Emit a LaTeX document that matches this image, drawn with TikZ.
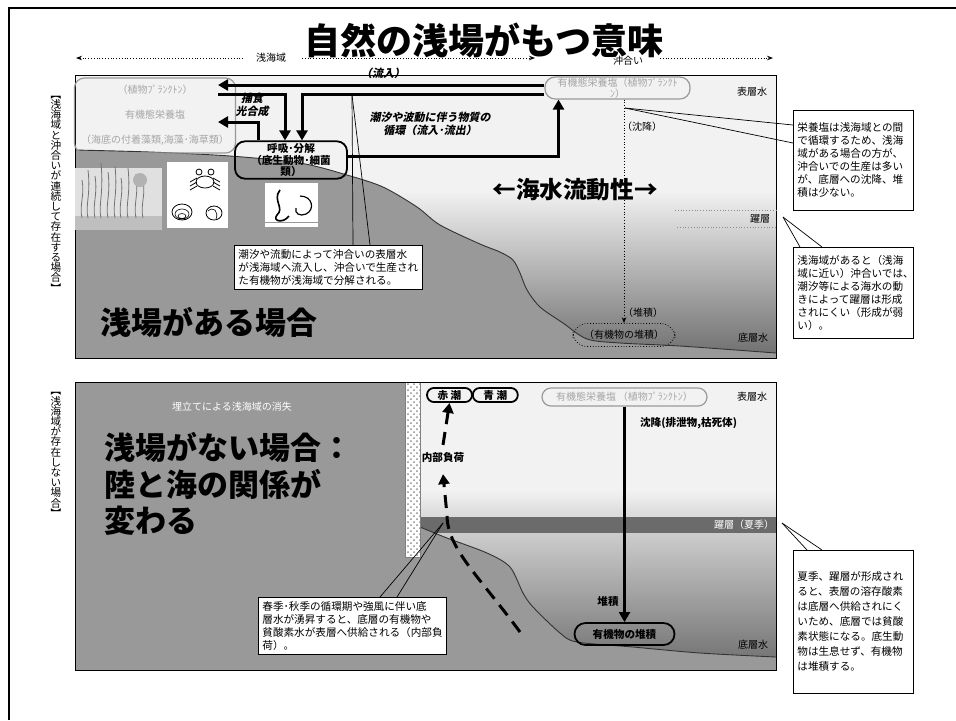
\documentclass[tikz,border=0pt]{standalone}
\usepackage{fontspec}
\setmainfont{Noto Sans CJK JP}
\newfontfamily\slantjp{Noto Sans CJK JP}[FakeSlant=0.2]
\usetikzlibrary{arrows.meta,patterns,positioning}

\makeatletter
% stack characters one under the other (vertical writing)
\newcommand\tatetext[1]{\vbox{\baselineskip=5.1pt\lineskiplimit=-\maxdimen
  \@tfor\tate@c:=#1\do{\hbox to 1em{\hss\tate@c\hss}}}}
\makeatother

\tikzset{
  flow/.style={line width=1.5pt, -{Triangle[length=5pt,width=5.5pt]}},
  uplift/.style={line width=1.5pt, dash pattern=on 6.5pt off 4pt, -{Triangle[length=5pt,width=5.5pt]}},
  pointer/.style={line width=0.35pt},
  note/.style={draw, fill=white, line width=0.4pt, align=left, inner sep=2pt,
    font=\fontsize{5.3}{6.5}\selectfont},
  lbl/.style={font=\fontsize{5}{6}\selectfont},
  boldlbl/.style={font=\fontsize{5.3}{6}\selectfont\bfseries},
  flowlbl/.style={font=\slantjp\fontsize{5.5}{6.6}\selectfont\bfseries, align=center},
  faint/.style={draw=black!40, text=black!35, rounded corners=5pt, line width=0.6pt},
  thickbox/.style={draw, line width=0.9pt, rounded corners=5pt, inner sep=1pt,
    font=\fontsize{5.3}{5.8}\selectfont\bfseries, align=center},
  heading/.style={font=\fontsize{15.5}{18.2}\selectfont\bfseries, align=left},
  seabed/.style={fill=black!40},
  bedline/.style={draw=black!80, line width=0.45pt}
}

\begin{document}
\begin{tikzpicture}[x=0.5pt, y=-0.5pt]
\useasboundingbox (0,0) rectangle (956,720);
\draw[line width=1pt] (9,720) -- (9,8) -- (956,8);

% scale along the top
\draw[densely dotted, -{Stealth[length=3pt]}] (243,58) -- (76,58);
\draw[densely dotted, -{Stealth[length=3pt]}] (302,58) -- (535,58);
\draw[densely dotted, -{Stealth[length=3pt]}] (660,58) -- (773,58);
\node[lbl] (shallow) at (271,58) {浅海域};
\node[lbl] (offshore) at (628,61) {沖合い};
\node[font=\fontsize{18}{20}\selectfont\bfseries] (title) at (484,40) {自然の浅場がもつ意味};

%%% upper panel
\fill[black!5] (75,75) rectangle (776,190);
\shade[top color=black!5, bottom color=black!57] (75,190) rectangle (776,358);
\fill[seabed] plot[smooth] coordinates {(75,150) (150,152) (230,156) (300,163) (347,175) (383,187)
  (417,207) (440,225) (480,244) (500,252) (513,260) (520,273) (527,290) (540,307) (563,323)
  (587,339) (620,343) (680,346) (776,353)} -- (776,358) -- (75,358) -- cycle;
\draw[bedline] plot[smooth] coordinates {(75,150) (150,152) (230,156) (300,163) (347,175) (383,187)
  (417,207) (440,225) (480,244) (500,252) (513,260) (520,273) (527,290) (540,307) (563,323)
  (587,339) (620,343) (680,346) (776,353)};
\draw[line width=0.4pt] (75,75) rectangle (776,358);

% seagrass bed
\fill[black!12] (75,168) rectangle (162,230);
\fill[black!25] (75,216) rectangle (162,230);
\foreach \x/\h in {82/38,88/48,95/42,101/55,108/46,115/52,121/40,128/50,136/44,143/36}
  \draw[black!55, line width=0.4pt] (\x,218) .. controls (\x-3,205) and (\x+3,195) .. (\x,218-\h);
\fill[black!30] (140,180) circle (7);
% crab and shells
\fill[white] (167,162) rectangle (228,228);
\draw[line width=0.4pt] (205,182) ellipse [x radius=9, y radius=6];
\foreach \d in {-4,0,4} {
  \draw[line width=0.4pt] (197,182+\d) -- (190,186+\d);
  \draw[line width=0.4pt] (213,182+\d) -- (220,186+\d);
}
\draw[line width=0.4pt] (199,172) circle (3) (211,172) circle (3);
\draw[line width=0.4pt] (182,212) ellipse [x radius=10, y radius=8];
\draw[line width=0.3pt] (182,214) ellipse [x radius=7, y radius=5] (182,216) ellipse [x radius=4, y radius=2.5];
\draw[line width=0.4pt] (214,213) ellipse [x radius=8, y radius=7];
\draw[line width=0.3pt] (208,211) .. controls (213,206) and (219,211) .. (216,219);
% worm and shrimp
\fill[white] (265,183) rectangle (318,227);
\draw[black!40] (265,222) -- (318,222);
\draw[line width=0.8pt] (280,190) .. controls (272,200) and (285,208) .. (277,215) .. controls (272,221) and (283,224) .. (289,216);
\draw[line width=0.6pt] (300,196) .. controls (313,196) and (315,210) .. (306,214) .. controls (300,217) and (294,213) .. (296,208);

\node[faint, minimum width=76pt, minimum height=37.5pt, align=center, font=\fontsize{5}{6}\selectfont]
  (plk) at (155,115.5) {（植物ﾌﾟﾗﾝｸﾄﾝ）\\[6.5pt]有機態栄養塩\\[6.5pt]（海底の付着藻類,海藻･海草類）};
\node[faint, minimum width=72.5pt, minimum height=10pt, inner sep=0.5pt, align=center, font=\fontsize{5}{5.2}\selectfont]
  (plk2) at (617.5,88) {有機態栄養塩（植物ﾌﾟﾗﾝｸﾄ\\ﾝ）};
\node[lbl] (surf1) at (752,92) {表層水};
\node[thickbox, minimum width=56pt] (resp) at (291,160) {呼吸･分解\\（底生動物･細菌\\類）};

\draw[flow] ([yshift=1.5pt]plk2.west) -- (218,85);
\draw[flow] (218,94) -| ([xshift=-3pt]resp.north);
\draw[flow] ([yshift=-3pt]plk2.west) -| ([xshift=5.5pt]resp.north);
\draw[flow] ([xshift=-16.5pt]resp.north) |- (218,122);
\draw[flow] ([yshift=2pt]resp.east) -| ([xshift=-29.5pt]plk2.south);

\node[flowlbl] (inflow) at (383,73) {（流入）};
\node[flowlbl] (feed) at (252,105) {捕食\\光合成};
\node[flowlbl] (cycle) at (430,124) {潮汐や波動に伴う物質の\\循環（流入･流出）};

\node[note, anchor=north west] (nA) at (234,245)
  {潮汐や流動によって沖合いの表層水\\が浅海域へ流入し、沖合いで生産され\\た有機物が浅海域で分解される。};
\coordinate (tipA) at (352,95);
\draw[pointer] (tipA) -- ([xshift=59.5pt]nA.north west);
\draw[pointer] (tipA) -- ([xshift=68pt]nA.north west);

\node[heading] (with) at (209,322) {浅場がある場合};
\node[font=\fontsize{11.8}{12}\selectfont\bfseries] (mobility) at (575,190) {←海水流動性→};

\node[draw, densely dotted, rounded corners=7pt, lbl, minimum width=51pt, minimum height=10pt] (dep) at (624,335) {（有機物の堆積）};
\draw[densely dotted, -{Stealth[length=3pt]}] ([xshift=3.25pt]plk2.south) -- (dep.north);
\node[lbl] (sink) at (642,127) {（沈降）};
\node[lbl] (settle) at (643,313) {（堆積）};

\draw[densely dotted, black!45] (675,210) -- (776,210);
\draw[densely dotted, black!45] (677,227) -- (776,227);
\node[lbl] (thermo) at (760,219) {躍層};
\node[lbl] (bottom1) at (753,338) {底層水};

\node[note, anchor=north west, text width=56pt, minimum height=50pt] (nB) at (793,110)
  {栄養塩は浅海域との間\\で循環するため、浅海\\域がある場合の方が、\\沖合いでの生産は多い\\が、底層への沈降、堆\\積は少ない。};
\coordinate (tipB) at (625,108);
\draw[pointer] (tipB) -- ([yshift=-7.5pt]nB.north west);
\draw[pointer] (tipB) -- ([yshift=-16.5pt]nB.north west);

\node[note, anchor=north west, text width=56pt, minimum height=45.5pt] (nC) at (793,247)
  {浅海域があると（浅海\\域に近い）沖合いでは、\\潮汐等による海水の動\\きによって躍層は形成\\されにくい（形成が弱\\い）。};
\coordinate (tipC) at (783,217);
\draw[pointer] (tipC) -- ([xshift=3.5pt]nC.north west);
\draw[pointer] (tipC) -- ([xshift=14.5pt]nC.north west);

\node[font=\fontsize{5.3}{5.3}\selectfont] (caseA) at (56,194) {\tatetext{︻浅海域と沖合いが連続して存在する場合︼}};

%%% lower panel
\fill[black!5] (420,382) rectangle (776,490);
\shade[top color=black!5, bottom color=black!15] (420,490) rectangle (776,517);
\fill[black!58] (420,517) rectangle (776,533);
\draw[white, densely dotted, line width=0.5pt] (420,533) -- (776,533);
\shade[top color=black!20, bottom color=black!57] (420,533.5) rectangle (776,670);
\fill[black!40] (75,382) rectangle (405,670);
\fill[seabed] plot[smooth] coordinates {(420,527) (447,538) (487,553) (510,567) (523,593) (533,607)
  (560,633) (577,642) (633,647) (700,653) (776,657)} -- (776,670) -- (405,670) -- (405,527) -- cycle;
\draw[bedline] plot[smooth] coordinates {(420,527) (447,538) (487,553) (510,567) (523,593) (533,607)
  (560,633) (577,642) (633,647) (700,653) (776,657)};
% sea wall
\fill[white] (405,382) rectangle (420,557);
\fill[pattern=crosshatch dots, pattern color=black!45] (405,382) rectangle (420,557);
\draw[line width=0.3pt, black!50] (405,382) rectangle (420,557);
\draw[line width=0.4pt] (75,382) rectangle (776,670);

\node[lbl, white] (landfill) at (232,407) {埋立てによる浅海域の消失};
\node[heading, anchor=north west, inner sep=0pt] (without) at (104,432) {浅場がない場合：\\陸と海の関係が\\変わる};

\node[thickbox, minimum width=22.5pt, minimum height=7pt, rounded corners=3.5pt] (red) at (449.5,395) {赤 潮};
\node[thickbox, minimum width=22.5pt, minimum height=7pt, rounded corners=3.5pt, right=-0.5pt of red] (blue) {青 潮};
\node[boldlbl] (load) at (443,457) {内部負荷};
\coordinate (upw) at (520,632);
\draw[uplift] (upw) .. controls (478,575) and (447,548) .. (447,515) -- ([yshift=-2.5pt]load.south);
\draw[uplift] (load.north) -- (red.south);

\node[faint, minimum width=82.5pt, minimum height=9pt, inner sep=0.5pt, rounded corners=4.5pt, font=\fontsize{5}{5}\selectfont]
  (plk3) at (624.5,397) {有機態栄養塩\,（植物ﾌﾟﾗﾝｸﾄﾝ）};
\node[lbl] (surf2) at (752,397) {表層水};
\node[thickbox, minimum width=50pt, minimum height=11pt, rounded corners=5.5pt] (dep2) at (624.5,634) {有機物の堆積};
\draw[line width=1.1pt, -{Triangle[length=5pt,width=5.5pt]}] (plk3.south) -- (dep2.north);
\node[boldlbl, anchor=west] (sink2) at (633,423) {沈降(排泄物,枯死体)};
\node[boldlbl] (settle2) at (608,601) {堆積};
\node[lbl, white] (thermo2) at (744,525) {躍層（夏季）};
\node[lbl] (bottom2) at (753,645) {底層水};

\node[note, anchor=north west] (nE) at (258,597)
  {春季･秋季の循環期や強風に伴い底\\層水が湧昇すると、底層の有機物や\\貧酸素水が表層へ供給される（内部負\\荷）。};
\coordinate (tipE) at (443,523);
\draw[pointer] (tipE) -- ([xshift=61pt]nE.north west);
\draw[pointer] (tipE) -- ([xshift=69.5pt]nE.north west);

\node[note, anchor=north west, text width=56pt, minimum height=71.5pt, font=\fontsize{5.3}{7.5}\selectfont] (nD) at (793,550)
  {夏季、躍層が形成され\\ると、表層の溶存酸素\\は底層へ供給されにく\\いため、底層では貧酸\\素状態になる。底生動\\物は生息せず、有機物\\は堆積する。};
\coordinate (tipD) at (782,523);
\draw[pointer] (tipD) -- ([xshift=7pt]nD.north west);
\draw[pointer] (tipD) -- ([xshift=14.5pt]nD.north west);

\node[font=\fontsize{5.3}{5.3}\selectfont] (caseB) at (56,455) {\tatetext{︻浅海域が存在しない場合︼}};
\end{tikzpicture}
\end{document}
